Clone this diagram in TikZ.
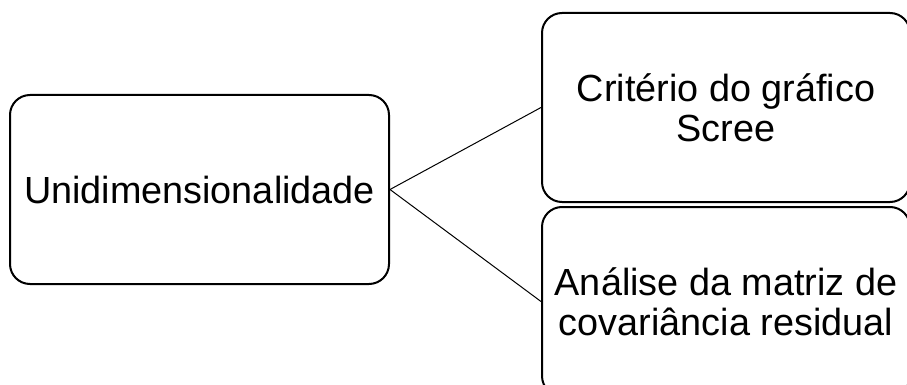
\documentclass[tikz,border=0pt]{standalone}
\usepackage{fontspec}
\setmainfont{Liberation Sans}
\usetikzlibrary{positioning}
\tikzstyle{mainbox} = [
	draw=black,
	line width=2pt,
	rounded corners=20pt,
	minimum width=379pt,
	minimum height=189pt,
	align=center,
	font=\fontsize{37.8}{40}\selectfont,
]
\tikzstyle{subbox} = [
	mainbox,
	minimum width=368pt,
]
\tikzstyle{link} = [
	line width=1pt
]

\begin{document}
\begin{tikzpicture}[x=1pt, y=1pt, node distance=0pt and 0pt]
	\useasboundingbox (0,0) rectangle (907,-385);
	
	%
	% Main criterion
	\node[mainbox] (uni) at (199.5,-189.5) {Unidimensionalidade};
	
	%
	% Sub criteria
	\node[subbox, right=151pt of uni, yshift=82pt] (scree) {Critério do gráfico\\Scree};
	\node[subbox, below=3pt of scree] (resid) {Análise da matriz de\\covariância residual};
	
	\draw[link] (uni.east)--(scree.west);
	\draw[link] (uni.east)--(resid.west);
	
\end{tikzpicture}
\end{document}
